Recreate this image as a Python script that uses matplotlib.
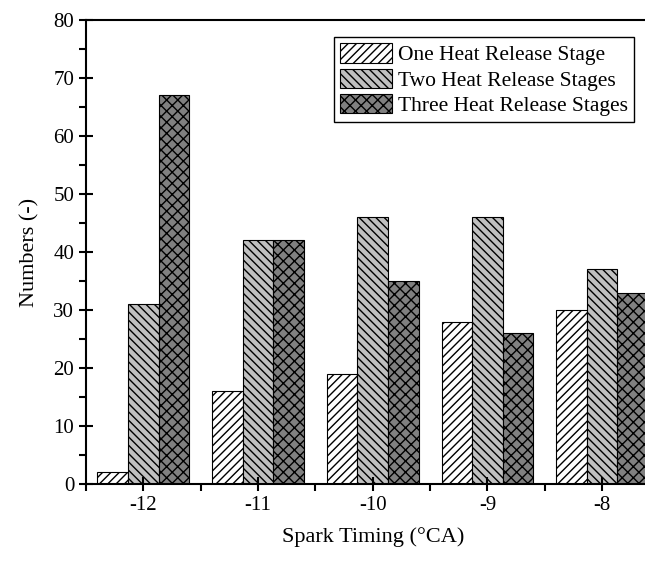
import numpy as np
import matplotlib.pyplot as plt
from matplotlib.ticker import MultipleLocator

plt.rcParams['font.family'] = ['Liberation Serif', 'DejaVu Serif']
plt.rcParams['hatch.linewidth'] = 1.0

timing = [-12, -11, -10, -9, -8]
one_stage = [2, 16, 19, 28, 30]
two_stage = [31, 42, 46, 46, 37]
three_stage = [67, 42, 35, 26, 33]
labels = ['One Heat Release Stage', 'Two Heat Release Stages', 'Three Heat Release Stages']

fig = plt.figure(figsize=(6.45, 5.61), dpi=100)
ax = fig.add_axes([86/645, 77/561, (659.5-86)/645, 464/561])

x = np.array(timing, dtype=float)
w = 0.8/3
ax.bar(x - w, one_stage, w, color='white', edgecolor='black', hatch='////', linewidth=0.8, label=labels[0])
ax.bar(x, two_stage, w, color='#c0c0c0', edgecolor='black', hatch='\\\\\\\\', linewidth=0.8, label=labels[1])
ax.bar(x + w, three_stage, w, color='#808080', edgecolor='black', hatch='xxx', linewidth=0.8, label=labels[2])

ax.set_xlim(-12.5, -7.5)
ax.set_ylim(0, 80)
ax.set_xticks(timing)
ax.set_xticklabels([str(t) for t in timing])
ax.xaxis.set_minor_locator(plt.FixedLocator([-12.5, -11.5, -10.5, -9.5, -8.5]))
ax.yaxis.set_major_locator(MultipleLocator(10))
ax.yaxis.set_minor_locator(MultipleLocator(5))
ax.tick_params(which='major', direction='inout', length=10, width=1.5, labelsize=15)
ax.tick_params(which='minor', direction='out', length=5, width=1.5)
ax.tick_params(axis='x', which='both', top=False)
ax.tick_params(axis='y', which='both', right=False)
for s in ax.spines.values():
    s.set_linewidth(1.5)

ax.set_xlabel('Spark Timing (\u00b0CA)', fontsize=16, labelpad=9)
ax.set_ylabel('Numbers (-)', fontsize=16, labelpad=10)

leg = ax.legend(loc='upper left', bbox_to_anchor=(334/645, 1-37/561), bbox_transform=fig.transFigure,
                borderaxespad=0, fontsize=15.5, fancybox=False, edgecolor='black', framealpha=1,
                handlelength=2.4, handleheight=1.0, handletextpad=0.25, labelspacing=0.15, borderpad=0.3)
leg.get_frame().set_linewidth(1.0)

fig.savefig('out.png', dpi=100)
